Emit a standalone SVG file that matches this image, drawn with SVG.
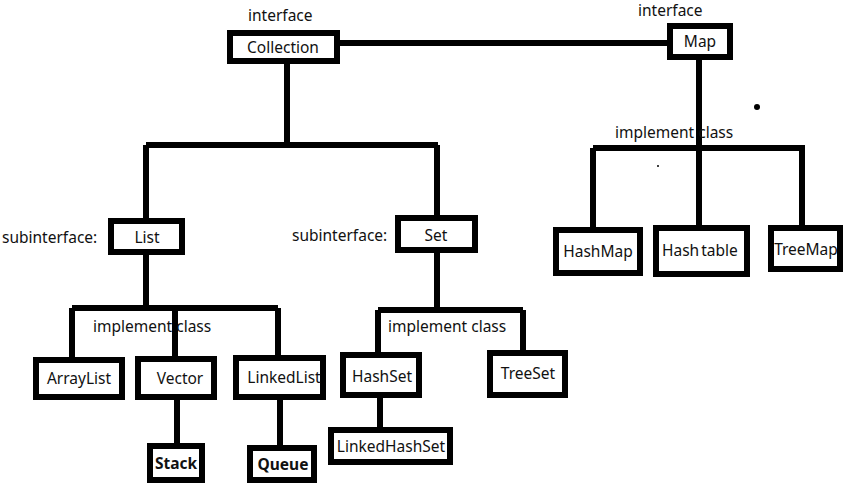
<svg xmlns="http://www.w3.org/2000/svg" width="851" height="486" viewBox="0 0 851 486">
<style>
.box{fill:#fff;stroke:#000;stroke-width:6}
.ln{stroke:#000;stroke-width:6;fill:none;stroke-linecap:butt}
text{font-family:"Noto Sans","Open Sans",sans-serif;font-size:15.5px;fill:#111}
.c{text-anchor:middle}
.b{font-weight:bold}
</style>
<rect width="851" height="486" fill="#fff"/>
<g id="connectors">
<path class="ln" d="M340 43H667"/>
<path class="ln" d="M287 63V145M146 145H438M146 145V218M437 145V215"/>
<path class="ln" d="M699 60V225M593 148H805M593 148V227M802 148V225"/>
<path class="ln" d="M146 255V308M72 308H278M72 308V357M175 308V356M278 308V355"/>
<path class="ln" d="M437 253V310M378 310H523M378 310V352M523 310V350"/>
<path class="ln" d="M380 398V427M177 400V443M280 400V445"/>
</g>
<g id="labels">
<text x="248" y="21">interface</text>
<text x="638" y="16">interface</text>
<text x="615" y="138">implement class</text>
<text x="2" y="243">subinterface:</text>
<text x="292" y="241">subinterface:</text>
<text x="93" y="332">implement class</text>
<text x="388" y="332">implement class</text>
<circle cx="757" cy="107" r="3" fill="#000"/>
<circle cx="658" cy="166" r="1" fill="#000"/>
</g>
<g id="Collection"><rect class="box" x="230" y="33" width="107" height="28"/><text class="c" x="283" y="53">Collection</text></g>
<g id="Map"><rect class="box" x="670" y="26" width="60" height="31"/><text class="c" x="700" y="47">Map</text></g>
<g id="List"><rect class="box" x="111" y="221" width="71" height="31"/><text class="c" x="147" y="243">List</text></g>
<g id="Set"><rect class="box" x="398" y="218" width="77" height="32"/><text class="c" x="436" y="241">Set</text></g>
<g id="HashMap"><rect class="box" x="556" y="230" width="84" height="43"/><text class="c" x="598" y="257">HashMap</text></g>
<g id="Hashtable"><rect class="box" x="656" y="228" width="91" height="46"/><text x="662" y="256">Hash<tspan dx="2">table</tspan></text></g>
<g id="TreeMap"><rect class="box" x="771" y="228" width="69" height="41"/><text class="c" x="806" y="255">TreeMap</text></g>
<g id="ArrayList"><rect class="box" x="36" y="360" width="86" height="37"/><text class="c" x="79" y="384">ArrayList</text></g>
<g id="Vector"><rect class="box" x="138" y="359" width="76" height="38"/><text class="c" x="180" y="384">Vector</text></g>
<g id="LinkedList"><rect class="box" x="236" y="358" width="87" height="39"/><text class="c" x="284" y="383">LinkedList</text></g>
<g id="HashSet"><rect class="box" x="343" y="355" width="76" height="40"/><text class="c" x="382" y="382">HashSet</text></g>
<g id="TreeSet"><rect class="box" x="490" y="353" width="75" height="42"/><text class="c" x="528" y="379">TreeSet</text></g>
<g id="LinkedHashSet"><rect class="box" x="331" y="430" width="119" height="32"/><text class="c" x="391" y="452">LinkedHashSet</text></g>
<g id="Stack"><rect class="box" x="150" y="446" width="52" height="34"/><text class="c b" x="176" y="469">Stack</text></g>
<g id="Queue"><rect class="box" x="250" y="448" width="64" height="32"/><text class="c b" x="283" y="470">Queue</text></g>
</svg>
